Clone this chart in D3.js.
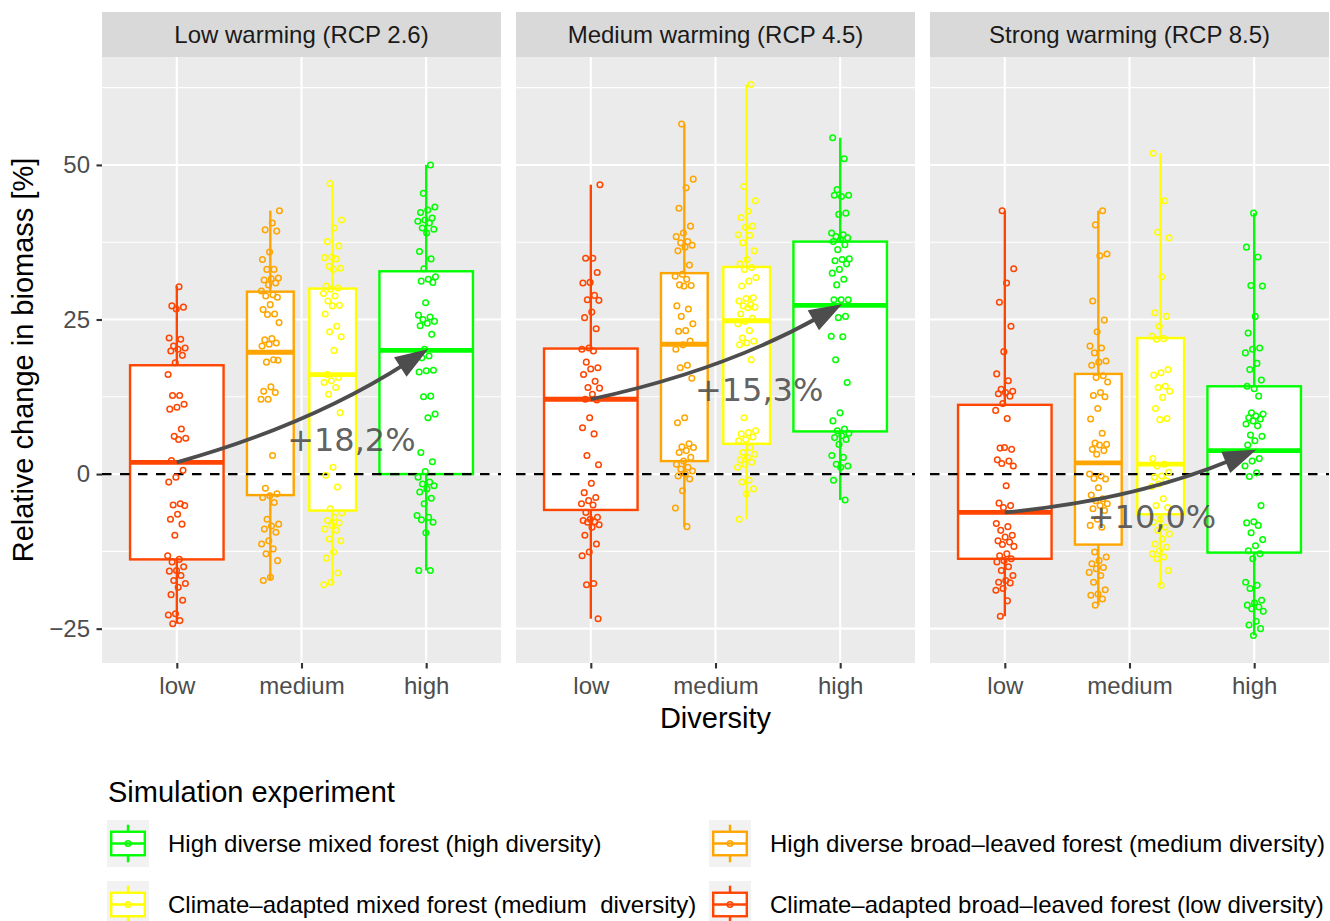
<!DOCTYPE html>
<html>
<head>
<meta charset="utf-8">
<script src="https://cdn.jsdelivr.net/npm/d3@7"></script>
<style>
  body { margin: 0; background: #ffffff; }
  svg { font-family: "Liberation Sans", Arial, sans-serif; }
</style>
</head>
<body>
<svg id="chart"></svg>
<script>

const w = 1330;
const h = 921;

// facets and categories
const scenarios = ["Low warming (RCP 2.6)", "Medium warming (RCP 4.5)", "Strong warming (RCP 8.5)"];
const diversity = ["low", "medium", "high"];
const yTicks = [-25, 0, 25, 50];

// legend entries (order as in the legend)
const experiments = [
  "High diverse mixed forest (high diversity)",
  "High diverse broad–leaved forest (medium diversity)",
  "Climate–adapted mixed forest (medium  diversity)",
  "Climate–adapted broad–leaved forest (low diversity)"
];
const expColors = ["#00FF00", "#FFA500", "#FFFF00", "#FF4500"];

// relative change in biomass [%], one array per box
const rcp26Low = [30.3, 27.2, 27.0, 26.7, 22.0, 21.8, 20.7, 20.4, 20.2, 19.9, 19.2, 18.0, 16.1, 12.7, 12.7, 11.3, 10.8, 10.5, 7.3, 6.1, 5.8, 5.6, 2.2, 0.6, -0.5, -1.3, -4.8, -5.0, -5.1, -6.5, -7.3, -8.1, -9.9, -13.2, -13.8, -14.2, -15.0, -15.6, -15.7, -16.4, -17.2, -17.7, -18.3, -19.5, -20.4, -22.6, -22.8, -23.7, -24.2];
const rcp26Broad = [42.6, 40.6, 39.5, 39.3, 35.9, 34.7, 33.1, 33.1, 31.7, 31.6, 31.4, 30.9, 30.6, 29.6, 29.0, 28.8, 28.6, 27.4, 26.6, 25.9, 25.8, 24.5, 21.9, 21.7, 21.2, 21.0, 20.7, 18.5, 18.1, 18.4, 14.1, 13.4, 13.2, 12.1, 12.1, 3.0, -2.3, -3.2, -3.5, -3.8, -4.6, -7.3, -8.1, -8.4, -8.9, -9.4, -10.8, -11.3, -12.1, -12.9, -14.0, -16.7, -17.2];
const rcp26Mixed = [47.0, 41.1, 39.8, 37.6, 36.9, 35.1, 35.0, 34.8, 33.6, 33.3, 33.1, 30.4, 30.1, 29.9, 29.2, 28.8, 28.0, 27.3, 27.2, 25.9, 23.9, 23.0, 22.2, 20.0, 16.1, 15.6, 15.1, 14.8, 14.0, 12.9, 9.9, 1.1, -0.2, -2.1, -5.6, -6.3, -7.0, -7.5, -7.9, -8.3, -8.9, -9.1, -10.5, -10.8, -12.6, -13.6, -16.0, -17.5, -17.9];
const rcp26High = [50.0, 45.4, 43.2, 42.7, 42.3, 41.4, 41.1, 40.9, 40.6, 39.8, 39.6, 39.0, 36.0, 34.8, 33.2, 31.9, 31.5, 31.2, 31.0, 27.7, 25.7, 25.4, 25.0, 24.7, 24.4, 24.0, 22.6, 20.2, 19.5, 19.1, 18.8, 16.8, 16.7, 16.5, 12.6, 12.5, 9.7, 9.1, 3.5, 2.0, 0.4, -0.5, -1.3, -1.6, -1.9, -2.4, -2.9, -3.9, -4.8, -6.7, -7.0, -7.4, -7.8, -9.5, -15.6, -15.6];

const rcp45Low = [46.8, 34.9, 34.9, 32.6, 31.0, 30.9, 28.9, 28.2, 28.1, 26.2, 25.3, 23.5, 20.4, 20.2, 19.9, 18.1, 17.2, 17.0, 16.1, 15.0, 14.0, 13.9, 12.9, 12.1, 12.0, 9.1, 7.5, 6.5, 3.0, 1.5, -1.5, -3.0, -3.8, -4.3, -4.8, -5.0, -6.2, -7.0, -7.3, -7.5, -7.7, -7.8, -8.2, -8.6, -9.9, -11.3, -12.6, -13.2, -17.7, -17.9, -23.4];
const rcp45Broad = [56.6, 47.7, 46.3, 43.0, 40.1, 39.0, 38.4, 37.6, 37.4, 37.0, 36.7, 36.1, 33.8, 32.3, 32.0, 31.5, 30.6, 30.5, 30.4, 27.2, 26.7, 25.5, 24.3, 23.2, 23.1, 21.5, 20.9, 20.2, 17.6, 17.2, 15.5, 9.1, 8.3, 4.9, 4.4, 4.3, 3.8, 3.5, 2.7, 2.1, 1.6, 1.1, 0.8, 0.5, 0.0, -0.3, -0.8, -2.7, -5.5, -8.5];
const rcp45Mixed = [63.0, 46.5, 44.2, 42.5, 41.5, 40.1, 39.9, 38.7, 38.6, 37.4, 36.1, 34.7, 34.0, 33.4, 33.1, 31.8, 31.2, 30.4, 28.5, 28.4, 28.0, 27.4, 27.2, 27.0, 26.9, 25.9, 25.2, 24.7, 24.3, 23.2, 22.0, 21.5, 21.2, 20.9, 18.5, 9.1, 7.0, 6.7, 6.5, 6.0, 5.6, 5.4, 4.3, 3.5, 3.2, 2.7, 2.3, 1.9, 1.6, 1.1, -1.0, -1.3, -2.4, -3.2, -7.3];
const rcp45High = [54.4, 51.0, 46.0, 45.1, 44.9, 45.1, 42.2, 42.0, 39.0, 38.7, 38.4, 38.2, 37.9, 37.6, 37.1, 36.3, 34.8, 34.7, 34.5, 34.0, 33.1, 32.5, 31.5, 30.6, 28.2, 28.2, 28.2, 25.5, 25.3, 22.3, 22.2, 18.5, 14.8, 9.9, 8.6, 7.3, 7.0, 6.6, 6.2, 5.9, 5.6, 4.8, 3.0, 2.7, 1.6, 1.3, 1.1, -1.0, -4.2];

const rcp85Low = [42.6, 33.2, 30.9, 27.8, 23.9, 19.8, 16.2, 15.1, 13.7, 13.4, 13.2, 13.0, 12.6, 11.4, 10.3, 9.0, 4.2, 4.0, 4.3, 2.3, 2.1, 1.7, 1.3, -1.9, -4.7, -5.1, -5.4, -8.0, -8.5, -9.1, -9.9, -10.2, -10.8, -11.0, -11.4, -11.7, -12.9, -13.2, -13.7, -14.0, -14.2, -15.0, -15.6, -16.4, -17.2, -17.5, -17.6, -18.5, -18.8, -20.5, -23.0];
const rcp85Broad = [42.6, 40.3, 35.6, 35.3, 28.0, 24.9, 23.0, 20.7, 20.4, 19.6, 18.3, 18.1, 17.6, 15.9, 15.6, 14.9, 13.2, 12.7, 12.5, 10.6, 8.9, 6.6, 5.0, 4.8, 4.7, 4.0, 3.8, 3.2, 0.0, -0.3, -0.7, -0.8, -2.2, -3.4, -4.0, -4.3, -4.8, -5.1, -5.6, -5.9, -7.3, -8.3, -8.6, -12.6, -13.4, -14.0, -14.5, -15.1, -15.3, -15.9, -16.4, -17.5, -18.7, -19.4, -19.6, -20.2, -21.2];
const rcp85Mixed = [51.9, 44.2, 39.1, 38.2, 31.9, 26.1, 25.5, 23.9, 22.3, 21.9, 21.8, 16.9, 16.4, 16.0, 14.2, 14.0, 13.4, 12.4, 10.6, 9.0, 8.8, 2.5, 1.6, 1.3, 0.3, -0.3, -0.5, -1.1, -1.6, -2.0, -4.0, -5.1, -5.4, -7.3, -7.8, -8.6, -9.1, -9.7, -10.5, -11.3, -11.8, -12.4, -12.9, -13.4, -13.7, -15.6, -18.0];
const rcp85High = [42.2, 36.7, 35.1, 30.5, 30.4, 25.5, 22.8, 20.4, 20.2, 19.6, 17.9, 16.9, 15.2, 13.8, 14.2, 12.6, 9.9, 9.7, 9.4, 9.1, 8.9, 8.6, 8.1, 7.8, 6.3, 6.1, 5.4, 4.7, 2.5, 2.1, 1.3, 0.2, -0.4, -5.1, -7.7, -7.9, -8.3, -9.5, -10.6, -11.6, -12.4, -12.9, -13.7, -17.5, -18.0, -18.5, -20.4, -20.8, -21.2, -21.5, -21.8, -22.2, -23.8, -24.4, -25.0, -26.1];

// box statistics: [lower whisker, q1, median, q3, upper whisker]
// order: low, broad-leaved (medium), mixed (medium), high
const boxes26 = [[-24.2, -13.8, 1.9, 17.6, 30.4], [-17.2, -3.4, 19.7, 29.5, 42.6], [-17.9, -5.9, 16.1, 30.0, 47.0], [-15.6, 0.0, 20.0, 32.8, 50.0]];
const boxes45 = [[-23.4, -5.8, 12.1, 20.3, 46.8], [-8.5, 2.1, 21.0, 32.5, 56.6], [-7.3, 4.9, 24.8, 33.5, 63.0], [-4.2, 6.9, 27.3, 37.6, 54.4]];
const boxes85 = [[-23.0, -13.7, -6.2, 11.2, 42.6], [-21.2, -11.4, 1.8, 16.2, 42.6], [-18.0, -6.5, 1.6, 22.0, 51.9], [-26.1, -12.7, 3.8, 14.2, 42.2]];

// annotations: change low -> high diversity
const changeLabels = ["+18,2%", "+15,3%", "+10,0%"];
const labelX = [2.4, 2.35, 2.18];
const labelY = [5.6, 13.7, -6.9];

const points = [
  [rcp26Low, rcp26Broad, rcp26Mixed, rcp26High],
  [rcp45Low, rcp45Broad, rcp45Mixed, rcp45High],
  [rcp85Low, rcp85Broad, rcp85Mixed, rcp85High]
];
const boxes = [boxes26, boxes45, boxes85];

// box layout inside a panel: experiment index, category position, dodge, width
const groups = [
  { exp: 3, pos: 1, dodge: 0, width: 0.75 },
  { exp: 1, pos: 2, dodge: -0.25, width: 0.375 },
  { exp: 2, pos: 2, dodge: 0.25, width: 0.375 },
  { exp: 0, pos: 3, dodge: 0, width: 0.75 }
];

const panelX = [102, 516, 930];
const panelW = 399;
const plotTop = 57;
const plotBottom = 663;

const svg = d3.select("#chart")
  .attr("width", w)
  .attr("height", h);

svg.append("rect").attr("width", w).attr("height", h).attr("fill", "#ffffff");

const allValues = points.flat(2);
const yMin = d3.min(allValues), yMax = d3.max(allValues);
const pad = (yMax - yMin) * 0.05;

const y = d3.scaleLinear()
  .domain([yMin - pad, yMax + pad])
  .range([plotBottom, plotTop]);

const minorTicks = [-37.5, -12.5, 12.5, 37.5, 62.5].filter(v => v > y.domain()[0] && v < y.domain()[1]);

const jit = (i, k) => ((((i + 1) * 0.6180339887 + k * 0.37) % 1) - 0.5) * 2;

panelX.forEach((px, s) => {

  let x = d3.scaleLinear().domain([0.4, 3.6]).range([px, px + panelW]);
  let step = x(2) - x(1);

  let g = svg.append("g");

  // panel background + grid
  g.append("rect")
    .attr("x", px).attr("y", plotTop)
    .attr("width", panelW).attr("height", plotBottom - plotTop)
    .attr("fill", "#EBEBEB");

  g.selectAll(".minor")
    .data(minorTicks)
    .enter().append("line")
    .attr("x1", px).attr("x2", px + panelW)
    .attr("y1", d => y(d)).attr("y2", d => y(d))
    .attr("stroke", "#ffffff").attr("stroke-width", 1.1);

  g.selectAll(".major")
    .data(yTicks)
    .enter().append("line")
    .attr("x1", px).attr("x2", px + panelW)
    .attr("y1", d => y(d)).attr("y2", d => y(d))
    .attr("stroke", "#ffffff").attr("stroke-width", 2.1);

  g.selectAll(".vmajor")
    .data([1, 2, 3])
    .enter().append("line")
    .attr("x1", d => x(d)).attr("x2", d => x(d))
    .attr("y1", plotTop).attr("y2", plotBottom)
    .attr("stroke", "#ffffff").attr("stroke-width", 2.1);

  // strip
  svg.append("rect")
    .attr("x", px).attr("y", 12)
    .attr("width", panelW).attr("height", plotTop - 12)
    .attr("fill", "#D9D9D9");
  svg.append("text")
    .attr("x", px + panelW / 2).attr("y", 43)
    .attr("text-anchor", "middle")
    .attr("font-size", 24)
    .attr("fill", "#1A1A1A")
    .text(scenarios[s]);

  // boxplots
  groups.forEach((gr, k) => {
    let st = boxes[s][k];
    let cx = x(gr.pos + gr.dodge);
    let bw = gr.width * step;
    let col = expColors[gr.exp];

    g.append("line")
      .attr("x1", cx).attr("x2", cx)
      .attr("y1", y(st[3])).attr("y2", y(st[4]))
      .attr("stroke", col).attr("stroke-width", 2.4);
    g.append("line")
      .attr("x1", cx).attr("x2", cx)
      .attr("y1", y(st[1])).attr("y2", y(st[0]))
      .attr("stroke", col).attr("stroke-width", 2.4);
    g.append("rect")
      .attr("x", cx - bw / 2).attr("y", y(st[3]))
      .attr("width", bw).attr("height", y(st[1]) - y(st[3]))
      .attr("fill", "#ffffff")
      .attr("stroke", col).attr("stroke-width", 2.4);
    g.append("line")
      .attr("x1", cx - bw / 2).attr("x2", cx + bw / 2)
      .attr("y1", y(st[2])).attr("y2", y(st[2]))
      .attr("stroke", col).attr("stroke-width", 4.8);
  });

  // zero line
  g.append("line")
    .attr("x1", px).attr("x2", px + panelW)
    .attr("y1", y(0)).attr("y2", y(0))
    .attr("stroke", "#000000").attr("stroke-width", 2.3)
    .attr("stroke-dasharray", "9.5,8.5");

  // jittered points
  groups.forEach((gr, k) => {
    let cx = x(gr.pos + gr.dodge);
    g.selectAll(null)
      .data(points[s][k])
      .enter().append("circle")
      .attr("cx", (d, i) => cx + jit(i, k + s) * 0.075 * step)
      .attr("cy", d => y(d))
      .attr("r", 2.8)
      .attr("fill", "none")
      .attr("stroke", expColors[gr.exp])
      .attr("stroke-width", 1.5);
  });

  // curved arrow low -> high median
  let sx = x(1), sy = y(boxes[s][0][2]);
  let ex = x(3), ey = y(boxes[s][3][2]);
  let dx = ex - sx, dy = ey - sy;
  let len = Math.sqrt(dx * dx + dy * dy);
  let nx = -dy / len, ny = dx / len;
  let cxp = (sx + ex) / 2 + nx * len * 0.075;
  let cyp = (sy + ey) / 2 + ny * len * 0.075;
  let ux = ex - cxp, uy = ey - cyp;
  let ul = Math.sqrt(ux * ux + uy * uy);
  ux /= ul; uy /= ul;
  let headL = 30, headW = 10.5;
  let bx = ex - ux * headL * 0.8, by = ey - uy * headL * 0.8;

  g.append("path")
    .attr("d", `M${sx},${sy} Q${cxp},${cyp} ${bx},${by}`)
    .attr("fill", "none")
    .attr("stroke", "#4D4D4D")
    .attr("stroke-width", 3.8);

  let hbx = ex - ux * headL, hby = ey - uy * headL;
  g.append("path")
    .attr("d", `M${ex},${ey} L${hbx - uy * headW},${hby + ux * headW} L${hbx + uy * headW},${hby - ux * headW} Z`)
    .attr("fill", "#4D4D4D")
    .attr("stroke", "#4D4D4D")
    .attr("stroke-width", 1.5)
    .attr("stroke-linejoin", "miter");

  g.append("text")
    .attr("x", x(labelX[s]))
    .attr("y", y(labelY[s]))
    .attr("dy", "0.36em")
    .attr("text-anchor", "middle")
    .attr("font-family", "DejaVu Sans")
    .attr("font-size", 32)
    .attr("fill", "#4D4D4D")
    .attr("fill-opacity", 0.9)
    .text(changeLabels[s]);

  // x axis
  let xAxis = d3.axisBottom(x)
    .tickValues([1, 2, 3])
    .tickFormat(d => diversity[d - 1])
    .tickSize(5.5)
    .tickPadding(8.5);

  let ax = svg.append("g")
    .attr("transform", `translate(0, ${plotBottom})`)
    .call(xAxis);
  ax.select(".domain").remove();
  ax.selectAll(".tick line").attr("stroke", "#333333").attr("stroke-width", 2.1);
  ax.selectAll(".tick text")
    .attr("font-size", 24)
    .attr("font-family", "Liberation Sans, Arial, sans-serif")
    .attr("fill", "#4D4D4D");
});

// y axis (first panel only)
let yAxis = d3.axisLeft(y)
  .tickValues(yTicks)
  .tickFormat(d => d < 0 ? "\u2212" + Math.abs(d) : d)
  .tickSize(5.5)
  .tickPadding(6.5);

let ay = svg.append("g")
  .attr("transform", `translate(${panelX[0]}, 0)`)
  .call(yAxis);
ay.select(".domain").remove();
ay.selectAll(".tick line").attr("stroke", "#333333").attr("stroke-width", 2.1);
ay.selectAll(".tick text")
  .attr("font-size", 24)
  .attr("font-family", "Liberation Sans, Arial, sans-serif")
  .attr("fill", "#4D4D4D");

// axis titles
svg.append("text")
  .attr("x", (panelX[0] + panelX[2] + panelW) / 2)
  .attr("y", 728)
  .attr("text-anchor", "middle")
  .attr("font-size", 29)
  .attr("fill", "#000000")
  .text("Diversity");

svg.append("text")
  .attr("transform", `translate(33, ${(plotTop + plotBottom) / 2}) rotate(-90)`)
  .attr("text-anchor", "middle")
  .attr("font-size", 29)
  .attr("fill", "#000000")
  .text("Relative change in biomass [%]");

// legend
svg.append("text")
  .attr("x", 108).attr("y", 802)
  .attr("font-size", 29)
  .attr("fill", "#000000")
  .text("Simulation experiment");

const keyX = [107, 709];
const keyY = [820, 881];
const keyW = 42, keyH = 47;

experiments.forEach((name, i) => {
  let kx = keyX[i % 2], ky = keyY[Math.floor(i / 2)];
  let col = expColors[i];
  let lg = svg.append("g");
  lg.append("rect")
    .attr("x", kx).attr("y", ky)
    .attr("width", keyW).attr("height", keyH)
    .attr("fill", "#F2F2F2");
  let mx = kx + keyW / 2;
  lg.append("line")
    .attr("x1", mx).attr("x2", mx)
    .attr("y1", ky + keyH * 0.1).attr("y2", ky + keyH * 0.9)
    .attr("stroke", col).attr("stroke-width", 2.4);
  lg.append("rect")
    .attr("x", kx + keyW * 0.1).attr("y", ky + keyH * 0.25)
    .attr("width", keyW * 0.8).attr("height", keyH * 0.5)
    .attr("fill", "#ffffff")
    .attr("stroke", col).attr("stroke-width", 2.4);
  lg.append("line")
    .attr("x1", kx + keyW * 0.1).attr("x2", kx + keyW * 0.9)
    .attr("y1", ky + keyH / 2).attr("y2", ky + keyH / 2)
    .attr("stroke", col).attr("stroke-width", 2.4);
  lg.append("circle")
    .attr("cx", mx).attr("cy", ky + keyH / 2)
    .attr("r", 2.8)
    .attr("fill", "none")
    .attr("stroke", col).attr("stroke-width", 1.5);
  lg.append("text")
    .attr("x", kx + 61)
    .attr("y", ky + 32)
    .attr("font-size", 24)
    .attr("fill", "#000000")
    .style("white-space", "pre")
    .text(name);
});

</script>
</body>
</html>
